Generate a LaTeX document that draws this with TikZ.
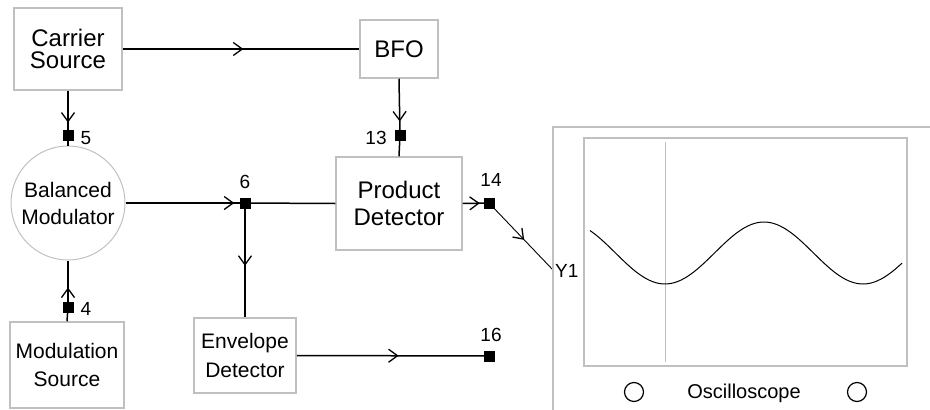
\documentclass[tikz,border=0pt]{standalone}
\usepackage{fontspec}
\setmainfont{Liberation Sans}
\usetikzlibrary{decorations.markings,arrows.meta}
\definecolor{boxgray}{RGB}{192,192,192}
\tikzset{
  blk/.style={draw=boxgray, line width=1.5pt, inner sep=0pt, align=center},
  txt/.style={font=\fontsize{21}{#1}\selectfont},
  bigtxt/.style={font=\fontsize{24}{#1}\selectfont},
  term/.style={fill=black, draw=none, minimum size=11pt, inner sep=0pt},
  lbl/.style={font=\fontsize{19}{20}\selectfont, inner sep=0pt},
  conn/.style={draw=black, line width=1.5pt},
  thinconn/.style={draw=black, line width=0.9pt},
  marr/.style={postaction={decorate}, decoration={markings,
     mark=at position #1 with {\arrow[line width=1.3pt]{Straight Barb[length=9pt,width=13pt]}}}},
  scope/.style={draw=boxgray, line width=1.2pt}
}
\begin{document}
\begin{tikzpicture}[x=1pt,y=-1pt]
\useasboundingbox (0,0) rectangle (930,410);
% blocks
\node[blk, bigtxt=22, minimum width=108pt, minimum height=82pt] (cs) at (68,49) {Carrier\\Source};
\node[blk, bigtxt=24, minimum width=78pt, minimum height=58pt] (bfo) at (399,49) {BFO};
\node[blk, bigtxt=27, minimum width=126pt, minimum height=93pt] (pd) at (399,203.5) {Product\\Detector};
\node[blk, txt=29, minimum width=102pt, minimum height=75pt] (ed) at (245,355.5) {Envelope\\Detector};
\node[blk, txt=28, minimum width=114pt, minimum height=86pt] (ms) at (67,365) {Modulation\\Source};
\node[blk, txt=27, circle, line width=1pt, minimum size=114pt] (bm) at (68,203) {Balanced\\Modulator};
% terminals
\node[term] (t5) at (68,135) {};
\node[term] (t13) at (400,135) {};
\node[term] (t6) at (245,203) {};
\node[term] (t14) at (489,203) {};
\node[term] (t4) at (68,307) {};
\node[term] (t16) at (489,356) {};
\coordinate (y1) at (553,270);
% terminal labels
\node[lbl] (l5) at (86,138) {5};
\node[lbl] (l13) at (376,138) {13};
\node[lbl] (l6) at (245,182) {6};
\node[lbl] (l14) at (491,180) {14};
\node[lbl] (l4) at (86,309) {4};
\node[lbl] (l16) at (491,335) {16};
\node[lbl, anchor=west] (ly1) at (555,271) {Y1};
% connectors
\draw[conn, marr=0.51] (cs.east) -- (bfo.west);
\draw[conn, marr=0.72] (cs.south) -- (t5.center);
\draw[conn] (t5.center) -- (bm.north);
\draw[conn, marr=0.76] (bfo.south) -- (t13.center);
\draw[conn] (t13.center) -- (pd.north);
\draw[conn, marr=0.91] (bm.east) -- (t6.center);
\draw[conn] (t6.center) -- (pd.west);
\draw[conn, marr=0.55] (t6.center) -- (ed.north);
\draw[conn] (ms.north) -- (t4.center);
\draw[conn, marr=0.42] (t4.center) -- (bm.south);
\draw[conn, marr=0.65] (pd.east) -- (t14.center);
\draw[thinconn, marr=0.55] (t14.center) -- (y1);
\draw[conn, marr=0.53] (ed.east) -- (t16.center);
% oscilloscope
\draw[scope] (553,410) -- (553,127) -- (930,127);
\draw[scope] (584,138) rectangle (907,366);
\draw[draw=boxgray, line width=1pt] (665,142) -- (665,362);
\draw[black, line width=1pt] plot[domain=590:902, samples=90, smooth] (\x, {253+31*cos((\x-665)*1.81818)});
\node[draw=black, circle, line width=1.2pt, minimum size=19pt, inner sep=0pt] (k1) at (634,392) {};
\node[draw=black, circle, line width=1.2pt, minimum size=19pt, inner sep=0pt] (k2) at (857,392) {};
\node[lbl, font=\fontsize{20}{22}\selectfont] (osc) at (744,393) {Oscilloscope};
\end{tikzpicture}
\end{document}
